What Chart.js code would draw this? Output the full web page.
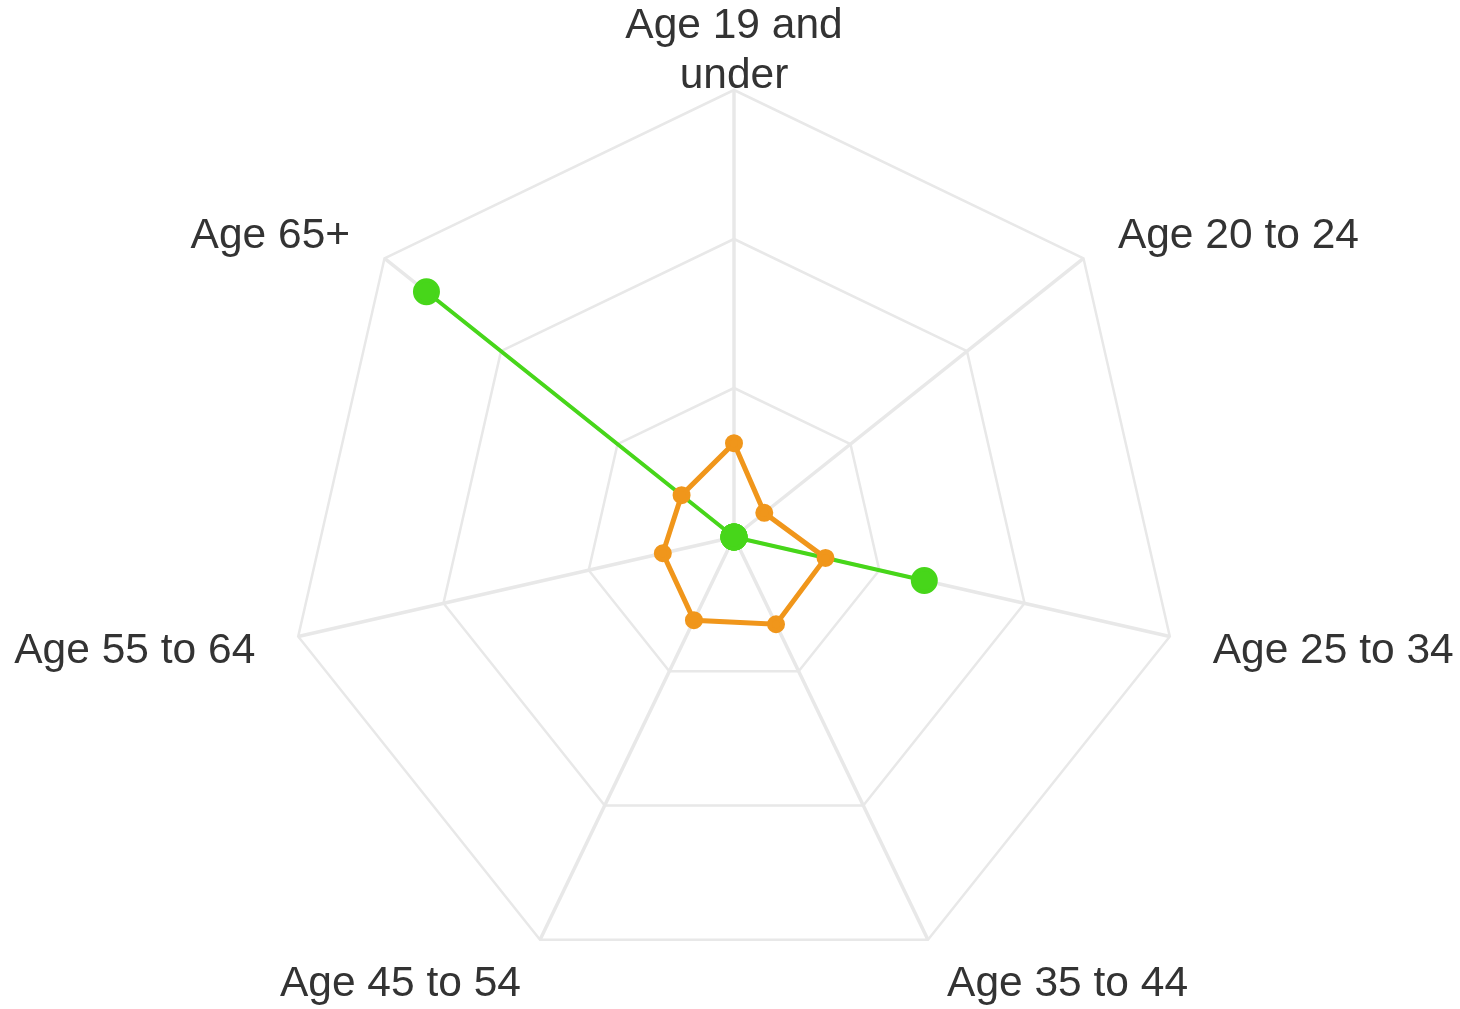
<!DOCTYPE html>
<html>
<head>
<meta charset="utf-8">
<script src="https://cdn.jsdelivr.net/npm/chart.js@4.4.0/dist/chart.umd.min.js"></script>
<style>
  html, body { margin: 0; padding: 0; background: #fff; }
  #wrap { width: 1460px; height: 1009px; }
</style>
</head>
<body>
<div id="wrap"><canvas id="ages"></canvas></div>
<script>
var categories = [["Age 19 and", "under"], "Age 20 to 24", "Age 25 to 34", "Age 35 to 44", "Age 45 to 54", "Age 55 to 64", "Age 65+"];
var orangeValues = [6.3, 2.6, 6.3, 6.5, 6.2, 4.9, 4.5];
var greenValues = [0, 0, 13.1, 0, 0, 0, 26.4];
var scaleMax = 30;
var scaleStep = 10;

// labels sit further out than chart.js puts them, centred on the point
var labelGap = 44;
var labelDrop = 5;
var labelFont = "42.5px 'Liberation Sans', Arial, sans-serif";
var labelLine = 50;

var outerLabels = {
  id: 'outerLabels',
  afterDraw: function(chart) {
    var scale = chart.scales.r;
    var c = chart.ctx;
    c.save();
    c.font = labelFont;
    c.fillStyle = "#333";
    c.textBaseline = "middle";
    chart.data.labels.forEach(function(label, i) {
      var pos = scale.getPointPosition(i, scale.drawingArea + labelGap);
      var lines = [].concat(label);
      if (Math.abs(pos.x - scale.xCenter) < 1) c.textAlign = "center";
      else c.textAlign = pos.x > scale.xCenter ? "left" : "right";
      var y = pos.y + labelDrop - (lines.length - 1) * labelLine / 2;
      lines.forEach(function(line) {
        c.fillText(line, pos.x, y);
        y += labelLine;
      });
    });
    c.restore();
  }
};

var ctx = document.getElementById("ages");

var agesChart = new Chart(ctx, {
  type: 'radar',
  data: {
    labels: categories,
    datasets: [
      {
        label: "Orange",
        data: orangeValues,
        borderColor: "#f0961b",
        backgroundColor: "#f0961b",
        pointBackgroundColor: "#f0961b",
        pointBorderColor: "#f0961b",
        borderWidth: 5,
        pointRadius: 6.5,
        fill: false
      },
      {
        label: "Green",
        data: greenValues,
        borderColor: "#47d61a",
        backgroundColor: "#47d61a",
        pointBackgroundColor: "#47d61a",
        pointBorderColor: "#47d61a",
        borderWidth: 4,
        pointRadius: 11.5,
        fill: false
      }
    ]
  },
  options: {
    responsive: true,
    maintainAspectRatio: false,
    animation: false,
    layout: {
      padding: { left: 287, right: 279, top: 90, bottom: 25 }
    },
    plugins: {
      legend: { display: false },
      tooltip: { enabled: false }
    },
    scales: {
      r: {
        min: 0,
        max: scaleMax,
        ticks: { stepSize: scaleStep, display: false },
        grid: { color: "#e8e8e8", lineWidth: 2.5 },
        angleLines: { color: "#e8e8e8", lineWidth: 3.5 },
        pointLabels: { display: false }
      }
    }
  },
  plugins: [outerLabels]
});
</script>
</body>
</html>
